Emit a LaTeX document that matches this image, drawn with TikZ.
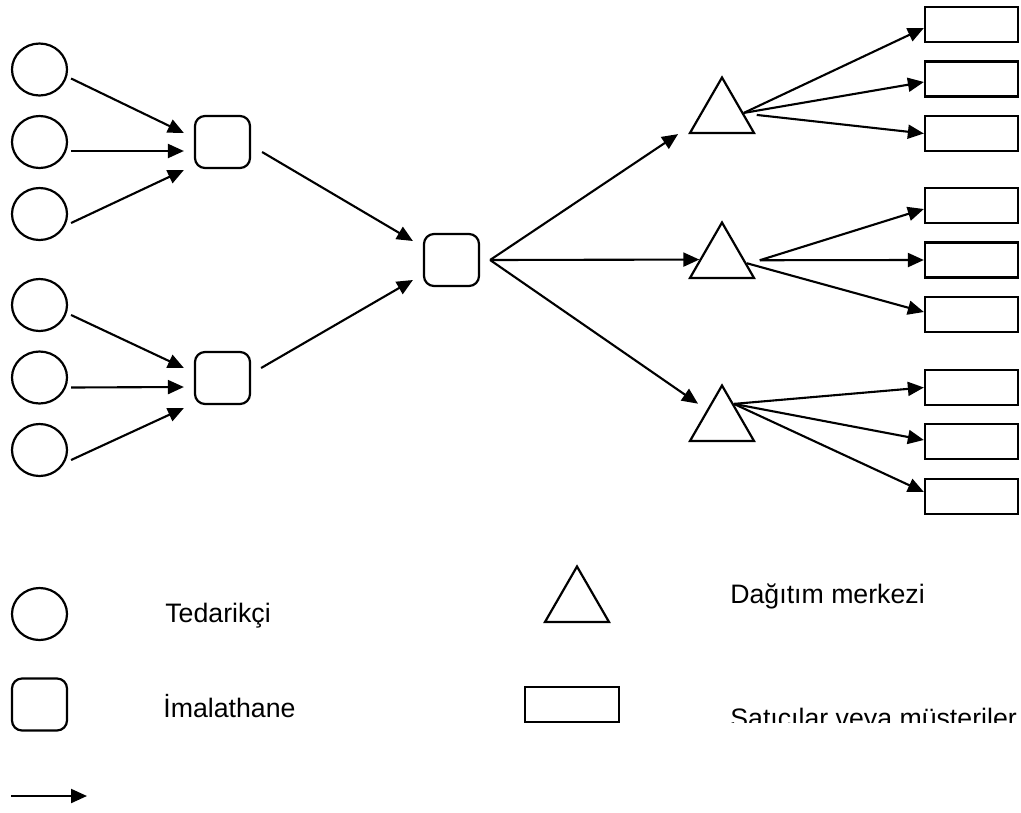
\documentclass[tikz,border=0pt]{standalone}
\usepackage{fontspec}
\setmainfont{Liberation Sans}
\usetikzlibrary{positioning, arrows.meta, shapes.geometric, calc}
\tikzset{
  supplier/.style = {ellipse, draw, line width=1.25pt, minimum width=1.1cm,
                     minimum height=1.04cm, inner sep=0pt},
  plant/.style    = {rectangle, rounded corners=0.2cm, draw, line width=1.25pt,
                     minimum width=1.1cm, minimum height=1.04cm, inner sep=0pt},
  depot/.style    = {regular polygon, regular polygon sides=3, draw, line width=1.25pt,
                     minimum size=1.48cm, inner sep=0pt},
  seller/.style   = {rectangle, draw, line width=1.3pt, minimum width=1.86cm,
                     minimum height=0.70cm, inner sep=0pt},
  lab/.style      = {font=\fontsize{15.2}{18}\selectfont, anchor=base west, inner sep=0pt},
  flow/.style     = {line width=1.2pt, -{Triangle[length=0.32cm, width=0.28cm]}},
}

\begin{document}
\begin{tikzpicture}[x=0.02cm, y=-0.02cm]
\useasboundingbox (0,0) rectangle (1021,812);

% Suppliers
\node (c1) [supplier] at (39.5,69.5) {};
\node (c2) [supplier] at (39.5,142) {};
\node (c3) [supplier] at (39.5,214) {};
\node (c4) [supplier] at (39.5,305) {};
\node (c5) [supplier] at (39.5,377.5) {};
\node (c6) [supplier] at (39.5,450) {};

% Plants
\node (m1) [plant] at (222.5,142) {};
\node (m2) [plant] at (222.5,378) {};
\node (hub) [plant] at (451.5,260) {};

% Distribution centres
\node (t1) [depot] at (722,114.5) {};
\node (t2) [depot] at (722,259.5) {};
\node (t3) [depot] at (722,422.5) {};

% Sellers
\node (r1) [seller] at (971.5,24.5) {};
\node (r2) [seller] at (971.5,79) {};
\node (r3) [seller] at (971.5,133.5) {};
\node (r4) [seller] at (971.5,205.5) {};
\node (r5) [seller] at (971.5,260) {};
\node (r6) [seller] at (971.5,314.5) {};
\node (r7) [seller] at (971.5,387.5) {};
\node (r8) [seller] at (971.5,441.5) {};
\node (r9) [seller] at (971.5,496.5) {};

% Suppliers to plants
\draw [flow] ($(c1.east)+(3,9)$) -- ($(m1.west)+(-10,-9)$);
\draw [flow] ($(c2.east)+(3,9)$) -- ($(m1.west)+(-10,9)$);
\draw [flow] ($(c3.east)+(3,9)$) -- ($(m1.west)+(-10,28)$);
\draw [flow] ($(c4.east)+(3,10)$) -- ($(m2.west)+(-10,-10)$);
\draw [flow] ($(c5.east)+(3,10)$) -- ($(m2.west)+(-10,9)$);
\draw [flow] ($(c6.east)+(3,10)$) -- ($(m2.west)+(-10,30)$);

% Plants to hub
\draw [flow] ($(m1.east)+(11,10)$) -- ($(hub.west)+(-10,-19)$);
\draw [flow] ($(m2.east)+(10,-10)$) -- ($(hub.west)+(-10,20)$);

% Hub to distribution centres
\coordinate (fork) at ($(hub.east)+(10,0)$);
\draw [flow] (fork) -- ($(t1.corner 2)+(-10,0)$);
\draw [flow] (fork) -- (t2);
\draw [flow] (fork) -- ($(t3.corner 1)!0.5!(t3.corner 2)+(-7,-9)$);

% Distribution centres to sellers
\coordinate (t1o) at ($(t1.corner 1)!0.64!(t1.corner 3)$);
\draw [flow] (t1o) -- ($(r1.west)+(0,3.5)$);
\draw [flow] (t1o) -- ($(r2.west)+(0,3)$);
\draw [flow] ($(t1o)+(13,2)$) -- (r3.west);
\coordinate (t2o) at ($(t2.corner 1)!0.73!(t2.corner 3)$);
\draw [flow] ($(t2o)+(13,-3)$) -- ($(r4.west)+(0,3.5)$);
\draw [flow] ($(t2o)+(13,-3)$) -- (r5.west);
\draw [flow] (t2o) -- ($(r6.west)+(0,-2.5)$);
\coordinate (t3o) at ($(t3.corner 1)!0.35!(t3.corner 3)$);
\draw [flow] (t3o) -- (r7.west);
\draw [flow] (t3o) -- ($(r8.west)+(0,-1.5)$);
\draw [flow] (t3o) -- ($(r9.west)+(0,-4.5)$);

% Legend
\node (lc) [supplier] at (39.5,614) {};
\node (lm) [plant] at (39.5,704.5) {};
\node (lt) [depot] at (577,603.5) {};
\node (lr) [seller, minimum width=1.88cm] at (572,704.5) {};
\node (lcx) [lab] at (165,622) {Tedarikçi};
\node (lmx) [lab] at (163,717) {İmalathane};
\node (ltx) [lab] at (730,603) {Dağıtım merkezi};
\begin{scope}
  \clip (700,690) rectangle (1021,722);
  \node (lrx) [lab] at (730,727) {Satıcılar veya müşteriler};
\end{scope}
\coordinate (la) at (11,796);
\coordinate (lb) at (87,796);
\draw [flow] (la) -- (lb);

\end{tikzpicture}
\end{document}
